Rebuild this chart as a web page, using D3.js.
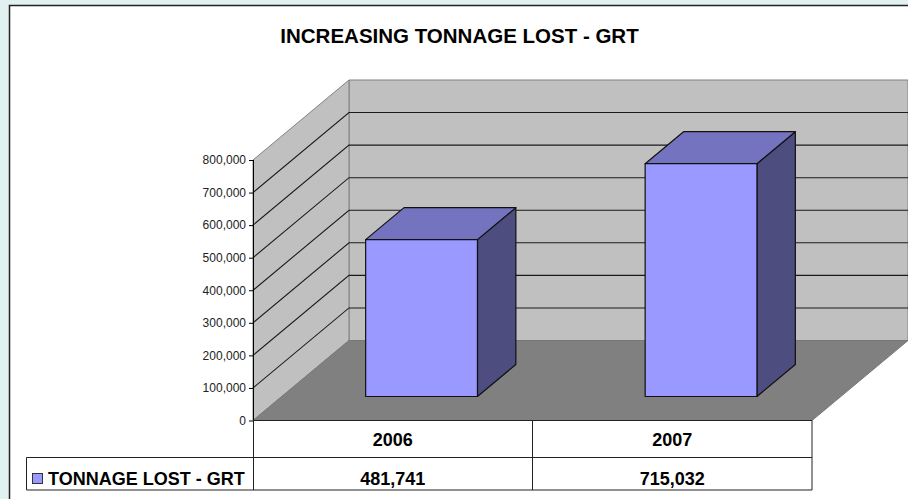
<!DOCTYPE html>
<html>
<head>
<meta charset="utf-8">
<script src="https://cdn.jsdelivr.net/npm/d3@7"></script>
<style>
  html, body { margin: 0; padding: 0; background: #e1f1f2; overflow: hidden; }
  text { font-family: "Liberation Sans", Arial, sans-serif; fill: #000; }
</style>
</head>
<body>
<div id="chart"></div>
<script>
const years = ["2006", "2007"];
const tonnage = [481741, 715032];
const yTicks = [0, 100000, 200000, 300000, 400000, 500000, 600000, 700000, 800000];
const seriesName = "TONNAGE LOST - GRT";
const chartTitle = "INCREASING TONNAGE LOST - GRT";

const width = 908, height = 499;

const svg = d3.select("#chart").append("svg")
    .attr("width", width)
    .attr("height", height)
    .style("display", "block");

// white chart area, only the top and left border show in the window
svg.append("rect").attr("x", 9.5).attr("y", 5.5).attr("width", width).attr("height", height)
    .attr("fill", "#fff").attr("stroke", "#222").attr("stroke-width", 1.5);

svg.append("text").attr("x", 459.5).attr("y", 43).attr("text-anchor", "middle")
    .style("font-size", "20.5px").style("font-weight", "700")
    .text(chartTitle);

const xScale = d3.scaleBand().domain(years).range([253, 812]).paddingInner(0.6).paddingOuter(0.3);
const yScale = d3.scaleLinear().domain([0, 800000]).range([420.5, 160]);

// oblique projection: depth 0 is the front of the floor, depth 1 the back wall
const depthX = d3.scaleLinear().domain([0, 1]).range([0, 96]);
const depthY = d3.scaleLinear().domain([0, 1]).range([0, -80]);
const project = (x, v, t) => [x + depthX(t), yScale(v) + depthY(t)];
const poly = pts => d3.line()(pts) + "Z";

const xL = xScale.range()[0], xR = xScale.range()[1];
const yMax = yScale.domain()[1];

// back wall, side wall, floor
svg.append("path")
    .attr("d", poly([project(xL, 0, 1), project(xR, 0, 1), project(xR, yMax, 1), project(xL, yMax, 1)]))
    .attr("fill", "#c0c0c0").attr("stroke", "#808080").attr("stroke-width", 1);
svg.append("path")
    .attr("d", poly([project(xL, 0, 0), project(xL, 0, 1), project(xL, yMax, 1), project(xL, yMax, 0)]))
    .attr("fill", "#c0c0c0").attr("stroke", "#808080").attr("stroke-width", 1);
svg.append("path")
    .attr("d", poly([project(xL, 0, 0), project(xR, 0, 0), project(xR, 0, 1), project(xL, 0, 1)]))
    .attr("fill", "#808080").attr("stroke", "#777").attr("stroke-width", 1);

// gridlines wrap from the axis along the side wall and over the back wall
svg.append("g").selectAll("path")
    .data(yTicks.filter(d => d > 0 && d < yMax))
    .enter().append("path")
    .attr("d", d => d3.line()([project(xL, d, 0), project(xL, d, 1), project(xR, d, 1)]))
    .attr("fill", "none").attr("stroke", "#1a1a1a").attr("stroke-width", 1.1);

// value axis
const yAxisG = svg.append("g").attr("transform", `translate(${xL},0)`)
    .call(d3.axisLeft(yScale).tickValues(yTicks).tickFormat(d3.format(",")).tickSize(4).tickPadding(3));
yAxisG.select(".domain").attr("stroke", "#000").attr("d", `M0.5,${yScale(yMax)}V${yScale(0)}`);
yAxisG.selectAll("line").attr("stroke", "#000");
yAxisG.selectAll("text").style("font-size", "12px").style("font-family", '"Liberation Sans", Arial, sans-serif').style("fill", "#222");

// bars stand between depth 0.3 and 0.7
const barFront = 0.3, barBack = 0.7;
const bars = svg.append("g").selectAll("g")
    .data(years.map((y, i) => ({ year: y, val: tonnage[i] })))
    .enter().append("g")
    .attr("stroke", "#111").attr("stroke-width", 1.2).attr("stroke-linejoin", "round");

bars.append("path").attr("fill", "#4d4d80").attr("d", d => {
    const r = xScale(d.year) + xScale.bandwidth();
    return poly([project(r, 0, barFront), project(r, 0, barBack), project(r, d.val, barBack), project(r, d.val, barFront)]);
});
bars.append("path").attr("fill", "#7373bf").attr("d", d => {
    const l = xScale(d.year), r = l + xScale.bandwidth();
    return poly([project(l, d.val, barFront), project(r, d.val, barFront), project(r, d.val, barBack), project(l, d.val, barBack)]);
});
bars.append("path").attr("fill", "#9999ff").attr("d", d => {
    const l = xScale(d.year), r = l + xScale.bandwidth();
    return poly([project(l, 0, barFront), project(r, 0, barFront), project(r, d.val, barFront), project(l, d.val, barFront)]);
});

// data table under the chart
const rowTop = 420.5, rowMid = 457.5, rowBottom = 490, tableLeft = 26.5;
const step = xScale.step();
const cellCenter = d => xL + step * (years.indexOf(d) + 0.5);
const tableLines = [
    [xL + 0.5, rowTop, xR, rowTop],
    [tableLeft, rowMid, xR, rowMid],
    [tableLeft, rowBottom, xR, rowBottom],
    [tableLeft, rowMid, tableLeft, rowBottom],
    [xL + 0.5, rowTop, xL + 0.5, rowBottom],
    [xL + step, rowTop, xL + step, rowBottom],
    [xR, rowTop, xR, rowBottom]
];
svg.append("g").selectAll("line").data(tableLines).enter().append("line")
    .attr("x1", d => d[0]).attr("y1", d => d[1]).attr("x2", d => d[2]).attr("y2", d => d[3])
    .attr("stroke", "#222").attr("stroke-width", 1);

svg.append("g").selectAll("text").data(years).enter().append("text")
    .attr("x", cellCenter).attr("y", 446).attr("text-anchor", "middle")
    .style("font-size", "18px").style("font-weight", "700")
    .text(d => d);
svg.append("g").selectAll("text").data(tonnage).enter().append("text")
    .attr("x", (d, i) => cellCenter(years[i])).attr("y", 484.5).attr("text-anchor", "middle")
    .style("font-size", "18px").style("font-weight", "700")
    .text(d => d3.format(",")(d));

svg.append("rect").attr("x", 32.5).attr("y", 473.5).attr("width", 10).attr("height", 10)
    .attr("fill", "#9999ff").attr("stroke", "#333").attr("stroke-width", 1);
svg.append("text").attr("x", 48).attr("y", 485)
    .style("font-size", "18px").style("font-weight", "700")
    .text(seriesName);
</script>
</body>
</html>
